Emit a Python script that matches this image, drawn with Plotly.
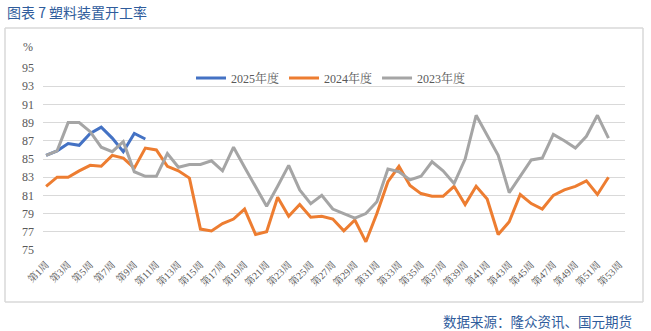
import plotly.graph_objects as go

# Weekly operating rate of plastics plants (%)
weeks = list(range(1, 54))
week_labels = [f"第{w}周" for w in weeks]

rate_2025 = [85.4, 85.9, 86.7, 86.5, 87.8, 88.5, 87.3, 85.8, 87.8, 87.2]

rate_2024 = [82.0, 83.0, 83.0, 83.7, 84.3, 84.2, 85.4, 85.1, 84.0, 86.2,
             86.0, 84.2, 83.7, 82.9, 77.3, 77.1, 77.9, 78.4, 79.5, 76.7,
             77.0, 80.8, 78.7, 80.0, 78.6, 78.7, 78.4, 77.1, 78.3, 75.9,
             79.0, 82.5, 84.2, 82.1, 81.2, 80.9, 80.9, 82.0, 80.0, 82.0,
             80.6, 76.7, 78.1, 81.1, 80.1, 79.5, 81.0, 81.6, 82.0, 82.6,
             81.1, 83.0]

rate_2023 = [85.4, 85.9, 89.0, 89.0, 88.0, 86.3, 85.8, 86.9, 83.6, 83.1,
             83.1, 85.6, 84.1, 84.4, 84.4, 84.8, 83.7, 86.3, 84.1, 82.0,
             79.8, 82.0, 84.3, 81.6, 80.1, 81.0, 79.5, 79.0, 78.5, 79.0,
             80.3, 83.9, 83.6, 82.7, 83.1, 84.7, 83.7, 82.3, 85.0, 89.8,
             87.6, 85.4, 81.3, 83.1, 84.9, 85.1, 87.7, 87.0, 86.2, 87.5,
             89.8, 87.3]

series = [
    ("2025年度", rate_2025, "#4472C4"),
    ("2024年度", rate_2024, "#ED7D31"),
    ("2023年度", rate_2023, "#A5A5A5"),
]

y_ticks = list(range(75, 96, 2))

W, H = 651, 331
L, R, T, B = 43, 26, 68, 81
PW, PH = W - L - R, H - T - B


def px(x):
    return (x - L) / PW


def py(y):
    return (H - B - y) / PH


SERIF = "Liberation Serif, 'Noto Serif CJK SC', 'Noto Sans CJK SC', serif"
CJK = "'Noto Sans CJK SC', sans-serif"

fig = go.Figure()
for name, vals, color in series:
    fig.add_trace(go.Scatter(
        x=weeks[:len(vals)], y=vals, name=name, mode="lines",
        line=dict(color=color, width=3),
    ))

fig.update_layout(
    width=W, height=H,
    margin=dict(l=L, r=R, t=T, b=B, pad=0),
    paper_bgcolor="white", plot_bgcolor="white",
    showlegend=True,
    legend=dict(
        orientation="h", x=px(191), xanchor="left", y=py(78), yanchor="middle",
        bgcolor="rgba(255,255,255,0)", font=dict(family=SERIF, size=12, color="#595959"),
        itemwidth=30, tracegroupgap=0,
    ),
    xaxis=dict(
        range=[0.72, 53.5], tickmode="array",
        tickvals=weeks[::2], ticktext=week_labels[::2],
        tickangle=-45, showgrid=False, zeroline=False, showline=False,
        ticks="", ticklabelstandoff=6,
        tickfont=dict(family=SERIF, size=10, color="#595959"),
    ),
    yaxis=dict(
        range=[75, 95], tickmode="array", tickvals=y_ticks,
        showgrid=True, gridcolor="#D9D9D9", gridwidth=1, zeroline=False,
        showline=False, ticks="", ticklabelstandoff=8,
        tickfont=dict(family=SERIF, size=12, color="#595959"),
    ),
    shapes=[
        dict(type="line", xref="paper", yref="paper", x0=px(5), x1=px(643),
             y0=py(28), y1=py(28), line=dict(color="#D9D9D9", width=1.5)),
        dict(type="line", xref="paper", yref="paper", x0=px(5), x1=px(5),
             y0=py(28), y1=py(302), line=dict(color="#D9D9D9", width=1.5)),
        dict(type="line", xref="paper", yref="paper", x0=px(643), x1=px(643),
             y0=py(28), y1=py(302), line=dict(color="#D9D9D9", width=1.5)),
        dict(type="line", xref="paper", yref="paper", x0=px(5), x1=px(643),
             y0=py(302), y1=py(302), line=dict(color="#D9D9D9", width=1.5)),
    ],
    annotations=[
        dict(text="图表 7 塑料装置开工率", xref="paper", yref="paper",
             x=px(5), y=py(12), xanchor="left", yanchor="middle", showarrow=False,
             font=dict(family=CJK, size=14, color="#2F5C9C")),
        dict(text="%", xref="paper", yref="paper",
             x=px(27.5), y=py(47), xanchor="center", yanchor="middle", showarrow=False,
             font=dict(family=SERIF, size=12, color="#595959")),
        dict(text="数据来源：隆众资讯、国元期货", xref="paper", yref="paper",
             x=px(634), y=py(321), xanchor="right", yanchor="middle", showarrow=False,
             font=dict(family=CJK, size=13.5, color="#2F5C9C")),
    ],
)

fig.write_html("out.html")
